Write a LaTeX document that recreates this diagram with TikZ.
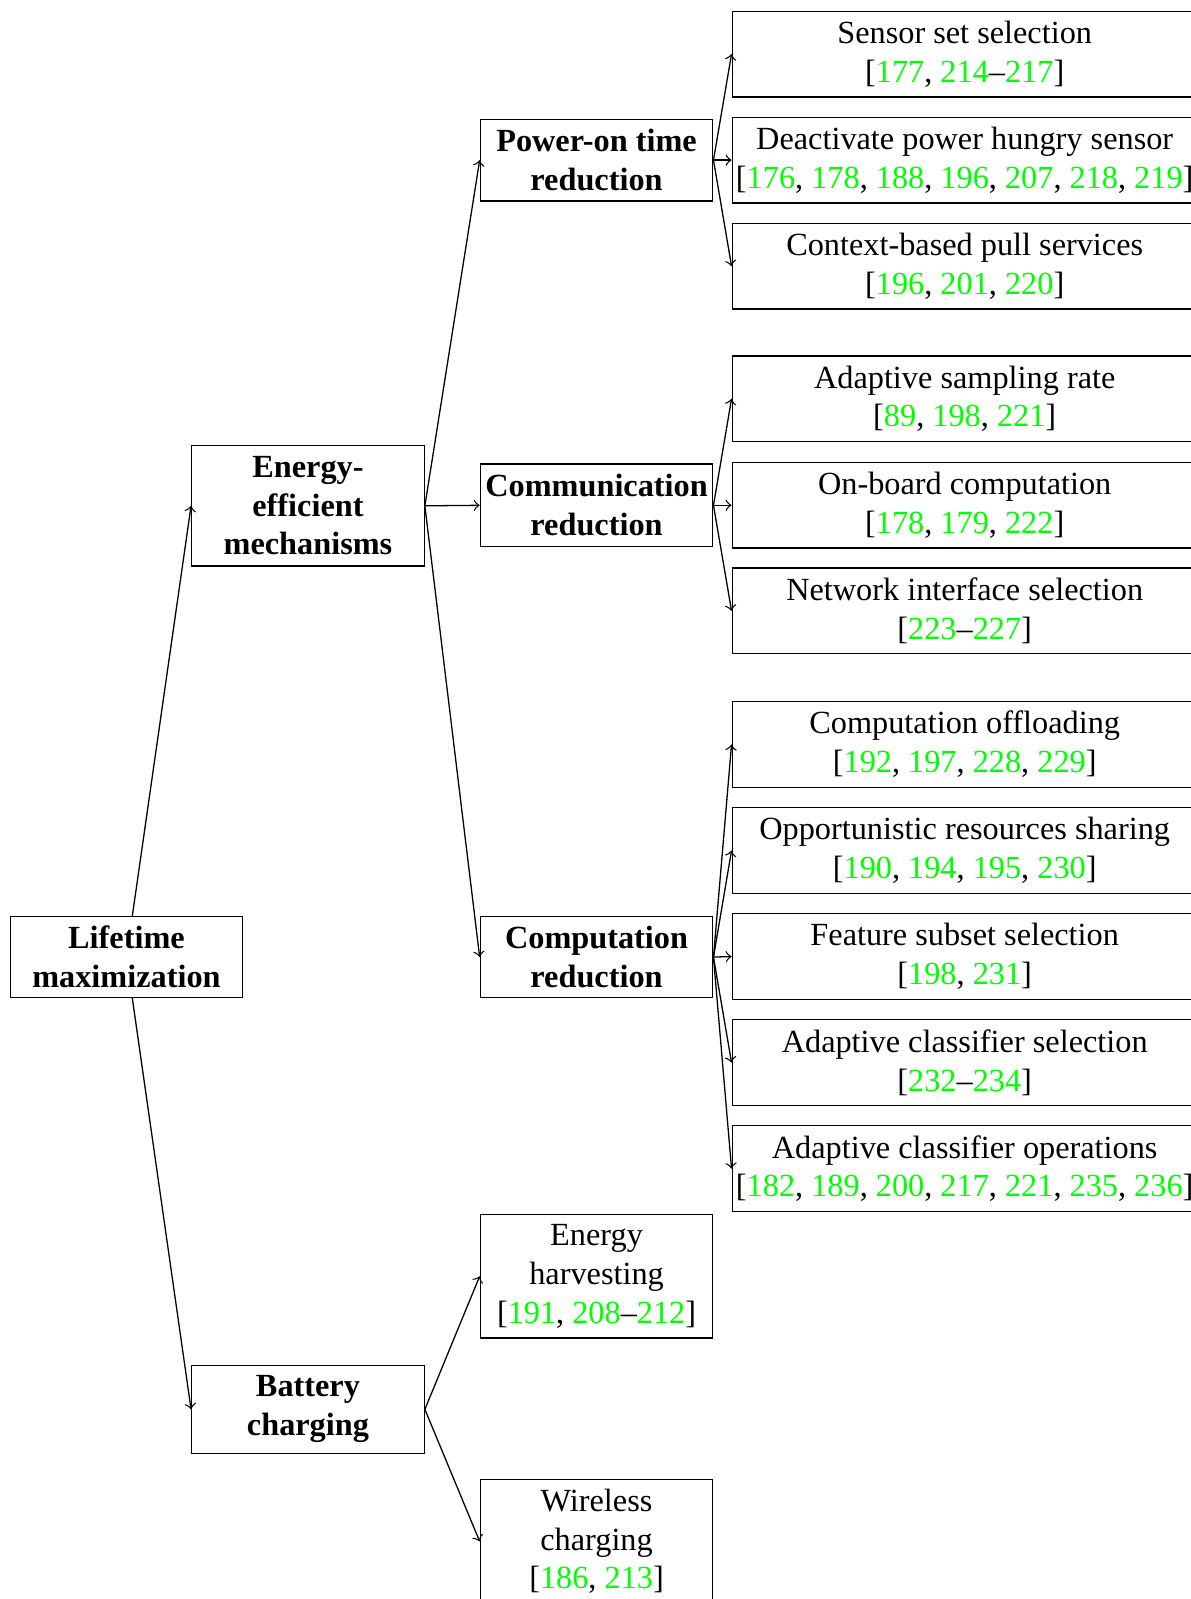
\documentclass[tikz,border=0pt]{standalone}
\usepackage{fontspec}
\setmainfont{Liberation Serif}
\usetikzlibrary{arrows,arrows.meta,positioning}

\newcommand{\pxu}{0.3158pt}
\newcommand{\rf}[1]{\textcolor{green}{#1}}

\begin{document}
\begin{tikzpicture}[>=to,x=\pxu,y=-\pxu,
    catbox/.style={draw,align=center,font=\bfseries,minimum width=228*\pxu,inner sep=0pt},
    leafbox/.style={draw,align=center,minimum width=228*\pxu,inner sep=0pt},
    refbox/.style={draw,align=center,minimum width=456*\pxu,minimum height=84*\pxu,inner sep=0pt}]

    \useasboundingbox (0,0) rectangle (1167,1568);

    % first and second level
    \node[catbox,minimum height=79*\pxu] (root) at (124,938.5) {Lifetime\\maximization};
    \node[catbox,minimum height=118*\pxu] (eem) at (302,496) {Energy-\\efficient\\mechanisms};
    \node[catbox,minimum height=86*\pxu] (bat) at (302,1382) {Battery\\charging};

    % third level
    \node[catbox,minimum height=80*\pxu] (pow) at (585,157) {Power-on time\\reduction};
    \node[catbox,minimum height=81*\pxu] (com) at (585,495.5) {Communication\\reduction};
    \node[catbox,minimum height=79*\pxu] (cmp) at (585,938.5) {Computation\\reduction};
    \node[leafbox,minimum height=121*\pxu] (harv) at (585,1251.5) {Energy\\harvesting\\{[}\rf{191}, \rf{208}--\rf{212}{]}};
    \node[leafbox,minimum height=121*\pxu] (wls) at (585,1511.5) {Wireless\\charging\\{[}\rf{186}, \rf{213}{]}};

    % leaves
    \node[refbox] (sens) at (946,53) {Sensor set selection\\{[}\rf{177}, \rf{214}--\rf{217}{]}};
    \node[refbox] (deact) at (946,157) {Deactivate power hungry sensor\\{[}\rf{176}, \rf{178}, \rf{188}, \rf{196}, \rf{207}, \rf{218}, \rf{219}{]}};
    \node[refbox] (ctx) at (946,261) {Context-based pull services\\{[}\rf{196}, \rf{201}, \rf{220}{]}};
    \node[refbox] (samp) at (946,391) {Adaptive sampling rate\\{[}\rf{89}, \rf{198}, \rf{221}{]}};
    \node[refbox] (onb) at (946,495.5) {On-board computation\\{[}\rf{178}, \rf{179}, \rf{222}{]}};
    \node[refbox] (nif) at (946,599) {Network interface selection\\{[}\rf{223}--\rf{227}{]}};
    \node[refbox] (off) at (946,730) {Computation offloading\\{[}\rf{192}, \rf{197}, \rf{228}, \rf{229}{]}};
    \node[refbox] (opp) at (946,834) {Opportunistic resources sharing\\{[}\rf{190}, \rf{194}, \rf{195}, \rf{230}{]}};
    \node[refbox] (feat) at (946,938) {Feature subset selection\\{[}\rf{198}, \rf{231}{]}};
    \node[refbox] (acs) at (946,1042) {Adaptive classifier selection\\{[}\rf{232}--\rf{234}{]}};
    \node[refbox] (aco) at (946,1146) {Adaptive classifier operations\\{[}\rf{182}, \rf{189}, \rf{200}, \rf{217}, \rf{221}, \rf{235}, \rf{236}{]}};

    \path[->]
    (root) edge (eem.west)
    (root) edge (bat.west)
    (eem.east) edge (pow.west)
    (eem.east) edge (com.west)
    (eem.east) edge (cmp.west)
    (bat.east) edge (harv.west)
    (bat.east) edge (wls.west)
    (pow.east) edge (sens.west)
    (pow.east) edge (deact.west)
    (pow.east) edge (ctx.west)
    (com.east) edge (samp.west)
    (com.east) edge (onb.west)
    (com.east) edge (nif.west)
    (cmp.east) edge (off.west)
    (cmp.east) edge (opp.west)
    (cmp.east) edge (feat.west)
    (cmp.east) edge (acs.west)
    (cmp.east) edge (aco.west)
    ;
\end{tikzpicture}
\end{document}
